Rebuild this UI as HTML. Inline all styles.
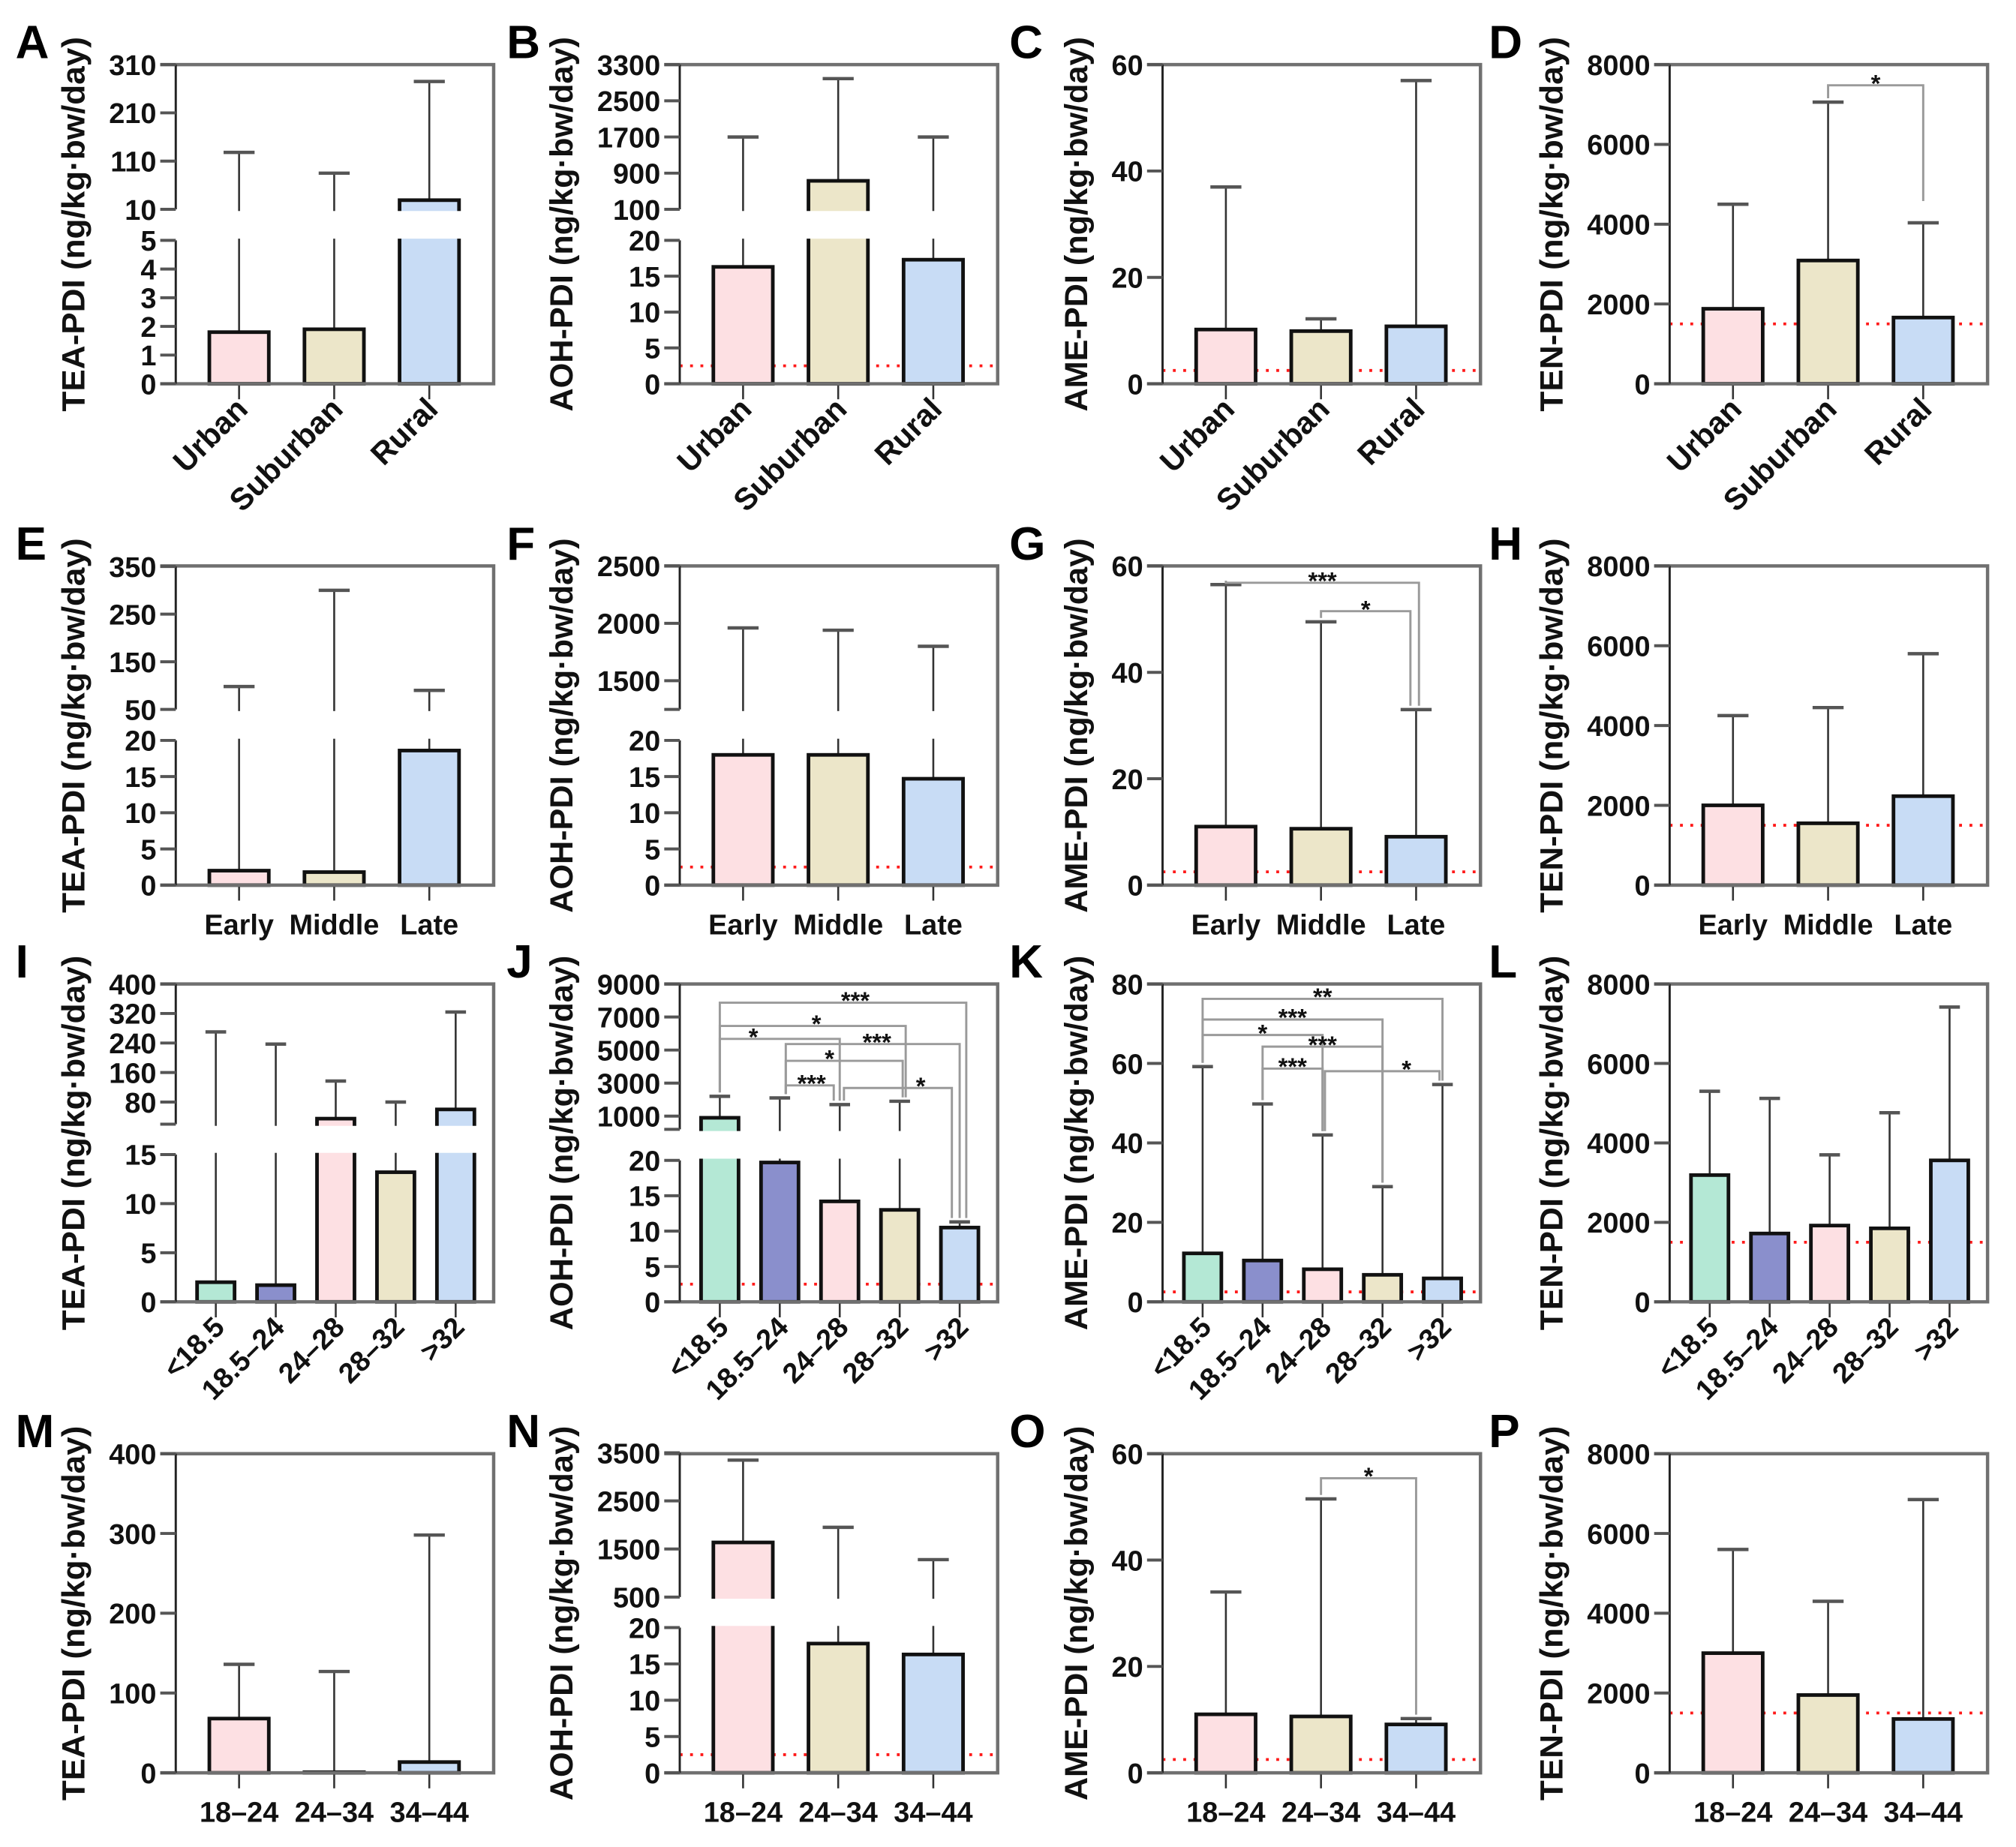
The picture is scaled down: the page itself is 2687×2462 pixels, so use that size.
<!DOCTYPE html>
<html><head><meta charset="utf-8"><title>PDI bar charts</title>
<style>
html,body{margin:0;padding:0;background:#fff;}
svg{display:block;font-family:"Liberation Sans",Arial,sans-serif;font-weight:bold;}
</style></head>
<body>
<svg id="fig" xmlns="http://www.w3.org/2000/svg" width="2687" height="2462" viewBox="0 0 1560 1429.4" preserveAspectRatio="none"></svg>
<script>
// ---------- data ----------
const catsRegion = ['Urban','Suburban','Rural'];
const catsStage = ['Early','Middle','Late'];
const catsBmi = ['<18.5','18.5\u201324','24\u201328','28\u201332','>32'];
const catsAge = ['18\u201324','24\u201334','34\u201344'];

const valsA = [1.8, 1.9, 29];      const errA = [128, 85, 275];
const valsB = [16.3, 730, 17.3];   const errB = [1700, 2990, 1700];
const valsC = [10.2, 9.9, 10.8];   const errC = [37, 12.2, 57];
const valsD = [1880, 3090, 1660];  const errD = [4500, 7060, 4035];
const valsE = [2.0, 1.8, 18.6];    const errE = [98, 300, 90];
const valsF = [18, 18, 14.7];      const errF = [1960, 1940, 1800];
const valsG = [11, 10.6, 9.1];     const errG = [56.5, 49.5, 33];
const valsH = [2000, 1550, 2230];  const errH = [4250, 4450, 5800];
const valsI = [2.0, 1.7, 35, 13.2, 60];       const errI = [270, 237, 137, 80, 324];
const valsJ = [900, 19.7, 14.2, 13, 10.5];    const errJ = [2200, 2100, 1700, 1900, 11.3];
const valsK = [12.2, 10.4, 8.2, 6.8, 5.9];    const errK = [59.2, 49.8, 42, 29, 54.7];
const valsL = [3190, 1720, 1920, 1850, 3560]; const errL = [5300, 5120, 3700, 4760, 7420];
const valsM = [68, 0.8, 13.5];     const errM = [136, 127, 298];
const valsN = [1636, 17.8, 16.3];  const errN = [3347, 1950, 1279];
const valsO = [11, 10.6, 9.1];     const errO = [34, 51.5, 10.2];
const valsP = [3000, 1950, 1350];  const errP = [5600, 4300, 6850];

const ticksTeaLowA = [0,1,2,3,4,5];    const ticksTeaUpA = [10,110,210,310];
const ticksAohLow = [0,5,10,15,20];    const ticksAohUpB = [100,900,1700,2500,3300];
const ticksAme = [0,20,40,60];         const ticksTen = [0,2000,4000,6000,8000];
const ticksTeaUpE = [50,150,250,350];  const ticksAohUpF = [1500,2000,2500];
const ticksTeaLowI = [0,5,10,15];      const ticksTeaUpI = [80,160,240,320,400];
const ticksAohUpJ = [1000,3000,5000,7000,9000];
const ticksAmeK = [0,20,40,60,80];     const ticksTeaM = [0,100,200,300,400];
const ticksAohUpN = [500,1500,2500,3500];

const LOD_AOH = 2.5, LOD_AME = 2.5, LOD_TEN = 1500;

// significance brackets: [groupA, groupB, label]
const sigD = [[1,2,'*']];
const sigG = [[0,2,'***'],[1,2,'*']];
const sigJ = [[0,4,'***'],[0,3,'*'],[0,2,'*'],[1,4,'***'],[1,3,'*'],[1,2,'***'],[2,4,'*']];
const sigK = [[0,4,'**'],[0,3,'***'],[0,2,'*'],[1,3,'***'],[1,2,'***'],[2,4,'*']];
const sigO = [[1,2,'*']];

// ---------- layout ----------
const COLX = [136, 526, 899.6, 1292];
const LETX = [12, 392, 781, 1152];
const ROWS = [[50,297],[438,685],[761.5,1007.5],[1125,1372]];
const W = 246;
const C3 = ['#fde0e3','#ece6c9','#c8dcf5'];
const C5 = ['#b4e8d5','#8a8fcc','#fde0e3','#ece6c9','#c8dcf5'];
const NS = 'http://www.w3.org/2000/svg';
const svg = document.getElementById('fig');

function mk(tag, attrs, parent){
  const e = document.createElementNS(NS, tag);
  for (const k in attrs) e.setAttribute(k, attrs[k]);
  parent.appendChild(e);
  return e;
}

function drawPanel(s){
  const g = mk('g', {}, svg);
  
  
  const ax = COLX[s.col], right = ax + W, top = ROWS[s.row][0], bot = ROWS[s.row][1];
  const segs = s.segs;
  const y = v => {
    const lo = segs[0];
    if (v <= lo.d[1] || segs.length === 1) return lo.r[0] + (v - lo.d[0]) / (lo.d[1] - lo.d[0]) * (lo.r[1] - lo.r[0]);
    const up = segs[1];
    if (v < up.d[0]) return lo.r[1];
    return up.r[0] + (v - up.d[0]) / (up.d[1] - up.d[0]) * (up.r[1] - up.r[0]);
  };
  const n = s.cats.length;
  const cx = i => n === 3 ? ax + 49 + 73.6 * i : ax + 31 + 46.4 * i;
  const bw = n === 3 ? 46 : 29, cw = n === 3 ? 24 : 16;
  const cols = n === 3 ? C3 : C5;

  if (s.red != null) {
    const rl = mk('line', {x1: ax, x2: right, y1: y(s.red), y2: y(s.red), stroke: '#ff1a1a', 'stroke-width': 2.2, 'stroke-dasharray': '2.2 5.8'}, g);
    
    
  }
  s.vals.forEach((v, i) => {
    const x = cx(i);
    const el = mk('line', {x1: x, x2: x, y1: y(v), y2: y(s.errs[i]), stroke: '#333', 'stroke-width': 1.5}, g);
    
    
    const cap = mk('line', {x1: x - cw/2, x2: x + cw/2, y1: y(s.errs[i]), y2: y(s.errs[i]), stroke: '#555', 'stroke-width': 2.6}, g);
    
    
    const r = mk('rect', {x: x - bw/2, y: y(v), width: bw, height: Math.max(0, bot - y(v)), fill: cols[i], stroke: '#111', 'stroke-width': 2.8}, g);
    
    
    const t = mk('line', {x1: x, x2: x, y1: bot, y2: bot + 12, stroke: '#333', 'stroke-width': 1.5}, g);
    
    
  });
  if (segs.length === 2) {
    const gap = mk('rect', {x: ax - 16, y: segs[1].r[0] + 1.3, width: right - ax + 14.5, height: segs[0].r[1] - segs[1].r[0] - 2.6, fill: '#fff'}, g);
    
    
  }
  const fr = mk('path', {d: `M${ax-12},${top}H${right}V${bot}H${ax-12}`, fill: 'none', stroke: '#707070', 'stroke-width': 2.6}, g);
  
  
  segs.forEach(sg => {
    const a = mk('line', {x1: ax, x2: ax, y1: sg.r[0], y2: sg.r[1], stroke: '#222', 'stroke-width': 1.7}, g);
    
    
    (sg.extra || []).forEach(t => {
      const tk = mk('line', {x1: ax - 12, x2: ax, y1: y(t), y2: y(t), stroke: '#555', 'stroke-width': 2.3}, g);
      
      
    });
    sg.ticks.forEach(t => {
      const yy = (t === sg.d[0]) ? sg.r[0] : (t === sg.d[1] ? sg.r[1] : y(t));
      const tk = mk('line', {x1: ax - 12, x2: ax, y1: yy, y2: yy, stroke: '#555', 'stroke-width': 2.3}, g);
      
      
      const tl = mk('text', {x: ax - 15, y: yy + 8, 'text-anchor': 'end', 'font-size': 22, fill: '#111'}, g);
      tl.textContent = String(t);
      
      
    });
  });
  (s.sig || []).forEach((b, k) => {
    const geo = s.sigGeo[k];
    const xa = cx(geo[1]), xb = cx(geo[2]), lv = geo[0];
    const ya = y(s.errs[b[0]]) - 3;
    const yb = geo[4] != null ? y(geo[4]) : y(s.errs[b[1]]) - 3;
    const p = mk('path', {d: `M${xa},${ya}V${lv}H${xb}V${yb}`, fill: 'none', stroke: '#9a9a9a', 'stroke-width': 1.7}, g);
    
    
    const sx = geo[3] != null ? cx(geo[3]) : (xa + xb) / 2;
    const st = mk('text', {x: sx, y: lv + 5, 'text-anchor': 'middle', 'font-size': 19, fill: '#111'}, g);
    st.textContent = b[2];
    
    
  });
  s.cats.forEach((c, i) => {
    const x = cx(i);
    let t;
    if (s.rot) {
      const px = x + 8, py = bot + 21;
      t = mk('text', {x: px, y: py, 'text-anchor': 'end', 'font-size': s.rotSize, fill: '#111', transform: `rotate(-45 ${px} ${py})`}, g);
    } else {
      t = mk('text', {x: x, y: bot + 38, 'text-anchor': 'middle', 'font-size': 22, fill: '#111'}, g);
    }
    t.textContent = c;
    
    
  });
  let maxLen = 0;
  segs.forEach(sg => sg.ticks.forEach(t => maxLen = Math.max(maxLen, String(t).length)));
  const tx = ax - 15 - maxLen * 0.556 * 22 - 28, ty = (top + bot) / 2;
  const yt = mk('text', {x: tx, y: ty + 9, 'text-anchor': 'middle', 'font-size': 25, fill: '#111', textLength: 290, lengthAdjust: 'spacingAndGlyphs', transform: `rotate(-90 ${tx} ${ty})`}, g);
  yt.textContent = s.title;
  
  
  const lt = mk('text', {x: LETX[s.col], y: top - 5, 'font-size': 36, fill: '#000'}, g);
  lt.textContent = s.letter;
  
  
}

const TEA = 'TEA-PDI (ng/kg\u00b7bw/day)', AOH = 'AOH-PDI (ng/kg\u00b7bw/day)', AME = 'AME-PDI (ng/kg\u00b7bw/day)', TEN = 'TEN-PDI (ng/kg\u00b7bw/day)';
const lin = (row, d, ticks) => [{d: d, r: [ROWS[row][1], ROWS[row][0]], ticks: ticks}];

drawPanel({letter:'A', col:0, row:0, title:TEA, cats:catsRegion, vals:valsA, errs:errA, rot:true, rotSize:24,
  segs:[{d:[0,5], r:[297,186], ticks:ticksTeaLowA},{d:[10,310], r:[162,50], ticks:ticksTeaUpA}]});
drawPanel({letter:'B', col:1, row:0, title:AOH, cats:catsRegion, vals:valsB, errs:errB, rot:true, rotSize:24, red:LOD_AOH,
  segs:[{d:[0,20], r:[297,186], ticks:ticksAohLow},{d:[100,3300], r:[162,50], ticks:ticksAohUpB}]});
drawPanel({letter:'C', col:2, row:0, title:AME, cats:catsRegion, vals:valsC, errs:errC, rot:true, rotSize:24, red:LOD_AME,
  segs:lin(0,[0,60],ticksAme)});
drawPanel({letter:'D', col:3, row:0, title:TEN, cats:catsRegion, vals:valsD, errs:errD, rot:true, rotSize:24, red:LOD_TEN,
  segs:lin(0,[0,8000],ticksTen), sig:sigD, sigGeo:[[66,1,2,null,4580]]});

drawPanel({letter:'E', col:0, row:1, title:TEA, cats:catsStage, vals:valsE, errs:errE,
  segs:[{d:[0,20], r:[685,573], ticks:ticksAohLow},{d:[50,350], r:[549,438.4], ticks:ticksTeaUpE}]});
drawPanel({letter:'F', col:1, row:1, title:AOH, cats:catsStage, vals:valsF, errs:errF, red:LOD_AOH,
  segs:[{d:[0,20], r:[685,573], ticks:ticksAohLow},{d:[1250,2500], r:[549,438], ticks:ticksAohUpF, extra:[1250]}]});
drawPanel({letter:'G', col:2, row:1, title:AME, cats:catsStage, vals:valsG, errs:errG, red:LOD_AME,
  segs:lin(1,[0,60],ticksAme), sig:sigG, sigGeo:[[451,0,2.03,null,null],[473,1,1.94,null,null]]});
drawPanel({letter:'H', col:3, row:1, title:TEN, cats:catsStage, vals:valsH, errs:errH, red:LOD_TEN,
  segs:lin(1,[0,8000],ticksTen)});

drawPanel({letter:'I', col:0, row:2, title:TEA, cats:catsBmi, vals:valsI, errs:errI, rot:true, rotSize:22,
  segs:[{d:[0,15], r:[1007.5,893.5], ticks:ticksTeaLowI},{d:[20,400], r:[870,761.5], ticks:ticksTeaUpI, extra:[20]}]});
drawPanel({letter:'J', col:1, row:2, title:AOH, cats:catsBmi, vals:valsJ, errs:errJ, rot:true, rotSize:22, red:LOD_AOH,
  segs:[{d:[0,20], r:[1007.5,898], ticks:ticksAohLow},{d:[200,9000], r:[874,761.5], ticks:ticksAohUpJ, extra:[200]}],
  sig:sigJ, sigGeo:[[776,0,4.11,2.26,null],[794,0,3.1,1.61,null],[804,0,2.0,0.56,null],[808,1.1,4.0,2.62,null],[821,1.1,3.05,1.83,null],[840,1.1,1.9,1.53,null],[842,2.07,3.87,3.35,null]]});
drawPanel({letter:'K', col:2, row:2, title:AME, cats:catsBmi, vals:valsK, errs:errK, rot:true, rotSize:22, red:LOD_AME,
  segs:lin(2,[0,80],ticksAmeK), sig:sigK,
  sigGeo:[[773,0,4,null,null],[789,0,3,null,null],[801,0,2,null,null],[810,1,3,null,null],[827,1,2,null,null],[829,2.04,3.95,3.4,null]]});
drawPanel({letter:'L', col:3, row:2, title:TEN, cats:catsBmi, vals:valsL, errs:errL, rot:true, rotSize:22, red:LOD_TEN,
  segs:lin(2,[0,8000],ticksTen)});

drawPanel({letter:'M', col:0, row:3, title:TEA, cats:catsAge, vals:valsM, errs:errM,
  segs:lin(3,[0,400],ticksTeaM)});
drawPanel({letter:'N', col:1, row:3, title:AOH, cats:catsAge, vals:valsN, errs:errN, red:LOD_AOH,
  segs:[{d:[0,20], r:[1372,1259.6], ticks:ticksAohLow},{d:[500,3500], r:[1236,1124.3], ticks:ticksAohUpN}]});
drawPanel({letter:'O', col:2, row:3, title:AME, cats:catsAge, vals:valsO, errs:errO, red:LOD_AME,
  segs:lin(3,[0,60],ticksAme), sig:sigO, sigGeo:[[1144,1,2,null,null]]});
drawPanel({letter:'P', col:3, row:3, title:TEN, cats:catsAge, vals:valsP, errs:errP, red:LOD_TEN,
  segs:lin(3,[0,8000],ticksTen)});
</script>
</body></html>
